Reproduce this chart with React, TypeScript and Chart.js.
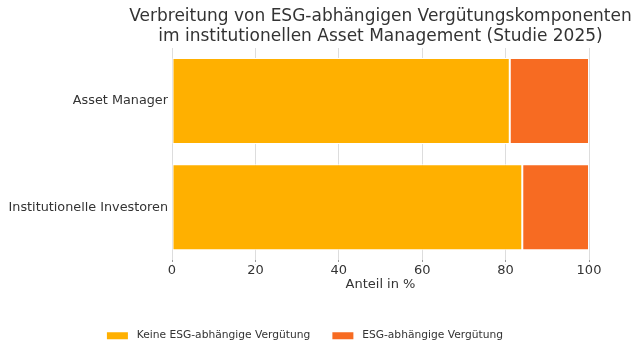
import React, { useEffect, useRef } from "react";
import { Chart, registerables } from "chart.js";

Chart.register(...registerables);

const categories = ["Asset Manager", "Institutionelle Investoren"];
const seriesNames = ["Keine ESG-abhängige Vergütung", "ESG-abhängige Vergütung"];
const keineEsg = [81, 84];
const esg = [19, 16];
const xTicks = [0, 20, 40, 60, 80, 100];
const titleLines = [
  "Verbreitung von ESG-abhängigen Vergütungskomponenten",
  "im institutionellen Asset Management (Studie 2025)",
];

const FONT = "'DejaVu Sans', sans-serif";

const titlePlugin = {
  id: "centeredTitle",
  afterDraw(chart: any) {
    const { ctx, chartArea } = chart;
    const cx = (chartArea.left + chartArea.right) / 2;
    ctx.save();
    ctx.fillStyle = "#333333";
    ctx.font = `17px ${FONT}`;
    ctx.textAlign = "center";
    ctx.textBaseline = "alphabetic";
    ctx.fillText(titleLines[0], cx, 21);
    ctx.fillText(titleLines[1], cx, 41);
    ctx.restore();
  },
};

export default function App() {
  const ref = useRef<HTMLCanvasElement | null>(null);
  useEffect(() => {
    document.body.style.margin = "0";
    const ctx = ref.current!;
    const defaultGen = Chart.defaults.plugins.legend.labels.generateLabels;
    const chart = new Chart(ctx, {
      type: "bar",
      data: {
        labels: categories,
        datasets: [
          {
            label: seriesNames[0],
            data: keineEsg,
            backgroundColor: "#FFB000",
            borderColor: "#ffffff",
            borderWidth: 1,
            borderSkipped: false,
            barPercentage: 0.81,
            categoryPercentage: 1,
          },
          {
            label: seriesNames[1],
            data: esg,
            backgroundColor: "#F76B22",
            borderColor: "#ffffff",
            borderWidth: 1,
            borderSkipped: false,
            barPercentage: 0.81,
            categoryPercentage: 1,
          },
        ],
      },
      options: {
        indexAxis: "y",
        responsive: false,
        animation: false,
        devicePixelRatio: 1,
        layout: { padding: { left: 0, right: 31, top: 48, bottom: 2 } },
        plugins: {
          title: { display: false },
          legend: {
            position: "bottom",
            labels: {
              color: "#333333",
              font: { family: FONT, size: 10.7 },
              boxWidth: 21,
              boxHeight: 7,
              padding: 22,
              generateLabels: (c: any) =>
                defaultGen(c).map((it: any) => ({ ...it, text: " " + it.text, lineWidth: 0 })),
            },
          },
          tooltip: { enabled: false },
        },
        scales: {
          x: {
            stacked: true,
            min: 0,
            max: 100,
            afterBuildTicks: (s: any) => {
              s.ticks = xTicks.map((v) => ({ value: v }));
            },
            afterFit: (s: any) => {
              s.height = 48;
            },
            border: { display: false },
            grid: {
              color: "#dddddd",
              borderDash: [2, 2],
              tickColor: "#999999",
              tickBorderDash: [2, 2],
              tickLength: 4,
            },
            ticks: {
              color: "#333333",
              font: { family: FONT, size: 13 },
              padding: -1,
            },
            title: {
              display: true,
              text: "Anteil in %",
              color: "#333333",
              font: { family: FONT, size: 13 },
              padding: { top: 0, bottom: 16 },
            },
          },
          y: {
            stacked: true,
            afterFit: (s: any) => {
              s.width = 172;
            },
            border: { display: false },
            grid: { display: false, drawTicks: false },
            ticks: {
              color: "#333333",
              font: { family: FONT, size: 12.8 },
              padding: 4,
            },
          },
          yRightSpacer: {
            type: "category",
            position: "right",
            labels: categories,
            afterFit: (s: any) => {
              s.width = 21;
            },
            border: { display: false },
            grid: { display: false, drawTicks: false },
            ticks: { display: false },
          },
        },
      },
      plugins: [titlePlugin],
    } as any);
    return () => chart.destroy();
  }, []);
  return (
    <div style={{ position: "fixed", left: 0, top: 0, width: 641, height: 353, background: "#fff" }}>
      <canvas ref={ref} width={641} height={353} />
    </div>
  );
}
